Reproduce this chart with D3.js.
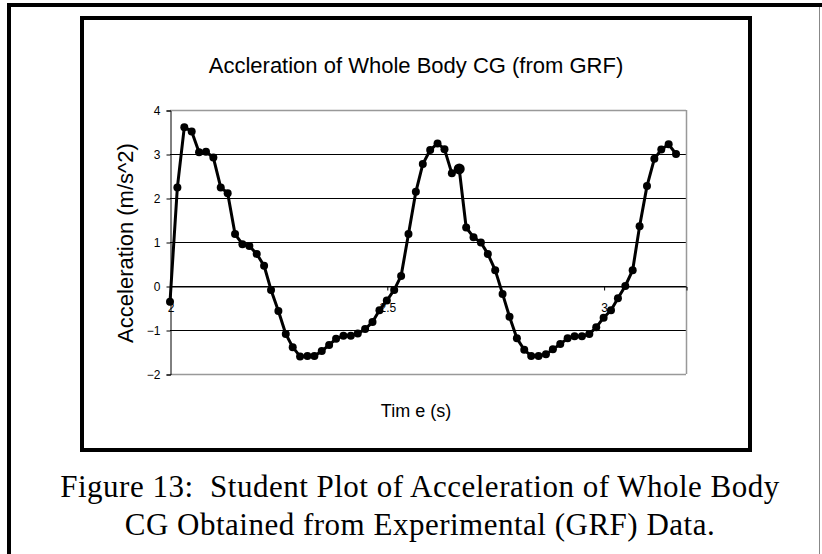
<!DOCTYPE html>
<html>
<head>
<meta charset="utf-8">
<script src="https://cdn.jsdelivr.net/npm/d3@7"></script>
<style>
  body { margin: 0; background: #fff; }
  svg { display: block; }
</style>
</head>
<body>
<script>
'use strict';

// time (s) of each sample (about 60 samples per second)
const times = [
  2.000, 2.017, 2.033, 2.050, 2.067, 2.083, 2.100, 2.117, 2.133, 2.150,
  2.167, 2.183, 2.200, 2.217, 2.233, 2.250, 2.267, 2.283, 2.300, 2.317,
  2.333, 2.350, 2.367, 2.383, 2.400, 2.417, 2.433, 2.450, 2.467, 2.483,
  2.500, 2.517, 2.533, 2.550, 2.567, 2.583, 2.600, 2.617, 2.633, 2.650,
  2.667, 2.683, 2.700, 2.717, 2.733, 2.750, 2.767, 2.783, 2.800, 2.817,
  2.833, 2.850, 2.867, 2.883, 2.900, 2.917, 2.933, 2.950, 2.967, 2.983,
  3.000, 3.017, 3.033, 3.050, 3.067, 3.083, 3.100, 3.117, 3.133, 3.150,
  3.167
];

// acceleration (m/s^2)
const accel = [
  -0.36, 2.24, 3.61, 3.51, 3.04, 3.05, 2.92, 2.24, 2.11, 1.18,
  0.95, 0.91, 0.73, 0.46, -0.09, -0.57, -1.09, -1.39, -1.60, -1.59,
  -1.59, -1.48, -1.34, -1.20, -1.13, -1.13, -1.08, -0.98, -0.82, -0.55,
  -0.33, -0.09, 0.23, 1.18, 2.14, 2.77, 3.09, 3.24, 3.11, 2.56,
  2.66, 1.33, 1.11, 0.99, 0.73, 0.36, -0.18, -0.70, -1.19, -1.45,
  -1.59, -1.59, -1.55, -1.44, -1.32, -1.19, -1.14, -1.14, -1.09, -0.94,
  -0.72, -0.55, -0.28, 0.00, 0.36, 1.36, 2.27, 2.89, 3.10, 3.22,
  3.00
];

const yTicks = [-2, -1, 0, 1, 2, 3, 4];
const xTicks = [2, 2.5, 3];
const xTickLabels = ["2", "2.5", "3"];

const chartTitle = "Accleration of Whole Body CG (from GRF)";
const yTitle = "Acceleration (m/s^2)";
const xTitle = "Tim e (s)";
const captionLines = [
  "Figure 13:  Student Plot of Acceleration of Whole Body",
  "CG Obtained from Experimental (GRF) Data."
];

// the one sample drawn with a larger marker
const bigMarker = 40;

(function() {
  const svg = d3.select('body').append('svg')
    .attr('width', 822)
    .attr('height', 554);

  // outer frame (left + top heavy, right thin)
  svg.append('line').attr('x1', 9).attr('y1', 3).attr('x2', 9).attr('y2', 554)
    .attr('stroke', '#000').attr('stroke-width', 4);
  svg.append('line').attr('x1', 7).attr('y1', 5).attr('x2', 822).attr('y2', 5)
    .attr('stroke', '#000').attr('stroke-width', 4);
  svg.append('line').attr('x1', 819.5).attr('y1', 7).attr('x2', 819.5).attr('y2', 554)
    .attr('stroke', '#888').attr('stroke-width', 1);

  // chart box
  svg.append('rect')
    .attr('x', 82).attr('y', 18).attr('width', 668).attr('height', 432)
    .attr('fill', 'none').attr('stroke', '#000').attr('stroke-width', 4);

  // scales
  const x = d3.scaleLinear().domain([2, 3.19]).range([170, 686]);
  const y = d3.scaleLinear().domain([-2, 4]).range([374, 110]);

  // gridlines
  svg.append('g')
    .selectAll('line')
    .data(yTicks.filter(d => d > -2 && d < 4))
    .enter().append('line')
      .attr('x1', x.range()[0]).attr('x2', x.range()[1])
      .attr('y1', d => Math.round(y(d)) + 0.5).attr('y2', d => Math.round(y(d)) + 0.5)
      .attr('stroke', '#000').attr('stroke-width', 1);

  // plot area top / bottom / right border (gray)
  [4, -2].forEach(v => {
    svg.append('line')
      .attr('x1', x.range()[0]).attr('x2', x.range()[1])
      .attr('y1', Math.round(y(v)) + 0.5).attr('y2', Math.round(y(v)) + 0.5)
      .attr('stroke', '#999').attr('stroke-width', 1.5);
  });
  svg.append('line')
    .attr('x1', x.range()[1] + 0.5).attr('x2', x.range()[1] + 0.5)
    .attr('y1', y(4)).attr('y2', y(-2))
    .attr('stroke', '#999').attr('stroke-width', 1.5);

  // y axis
  const yAxis = d3.axisLeft(y).tickValues(yTicks).tickSize(4).tickPadding(6)
    .tickFormat(d3.format('d'));
  const gy = svg.append('g')
    .attr('transform', 'translate(' + (x.range()[0] + 0.5) + ',0.5)')
    .call(yAxis);
  gy.select('.domain').attr('stroke', '#000');
  gy.selectAll('.tick line').attr('stroke', '#000');
  gy.selectAll('text')
    .style('font-family', 'Liberation Sans, Arial, sans-serif')
    .style('font-size', '12px')
    .attr('fill', '#000');

  // x axis on the zero line
  const xAxis = d3.axisBottom(x).tickValues(xTicks).tickSize(4).tickPadding(13)
    .tickFormat((d, i) => xTickLabels[i]);
  const gx = svg.append('g')
    .attr('transform', 'translate(0.5,' + (Math.round(y(0)) + 0.5) + ')')
    .call(xAxis);
  gx.select('.domain').attr('stroke', '#000');
  gx.selectAll('.tick line').attr('stroke', '#000');
  gx.selectAll('text')
    .style('font-family', 'Liberation Sans, Arial, sans-serif')
    .style('font-size', '12px')
    .attr('fill', '#000');

  // data line + markers
  const pts = times.map((t, i) => ({ t: t, a: accel[i], i: i }));
  const line = d3.line().x(d => x(d.t)).y(d => y(d.a));
  svg.append('path')
    .datum(pts)
    .attr('d', line)
    .attr('fill', 'none')
    .attr('stroke', '#000')
    .attr('stroke-width', 3)
    .attr('stroke-linejoin', 'round');
  svg.append('g')
    .selectAll('circle')
    .data(pts)
    .enter().append('circle')
      .attr('cx', d => x(d.t))
      .attr('cy', d => y(d.a))
      .attr('r', d => d.i === bigMarker ? 5.5 : 4)
      .attr('fill', '#000');

  // titles
  svg.append('text')
    .attr('x', 416).attr('y', 73)
    .attr('text-anchor', 'middle')
    .style('font-family', 'Liberation Sans, Arial, sans-serif')
    .style('font-size', '22px')
    .text(chartTitle);

  svg.append('text')
    .attr('transform', 'translate(133,243)rotate(-90)')
    .attr('text-anchor', 'middle')
    .style('font-family', 'Liberation Sans, Arial, sans-serif')
    .style('font-size', '22px')
    .text(yTitle);

  svg.append('text')
    .attr('x', 416).attr('y', 417)
    .attr('text-anchor', 'middle')
    .style('font-family', 'Liberation Sans, Arial, sans-serif')
    .style('font-size', '18px')
    .text(xTitle);

  // figure caption
  svg.selectAll('.caption')
    .data(captionLines)
    .enter().append('text')
      .attr('class', 'caption')
      .attr('x', 420)
      .attr('y', (d, i) => 497 + i * 38)
      .attr('text-anchor', 'middle')
      .style('font-family', 'Liberation Serif, Times New Roman, serif')
      .style('font-size', '31px')
      .style('letter-spacing', '0.5px')
      .style('white-space', 'pre')
      .text(d => d);
})();
</script>
</body>
</html>
